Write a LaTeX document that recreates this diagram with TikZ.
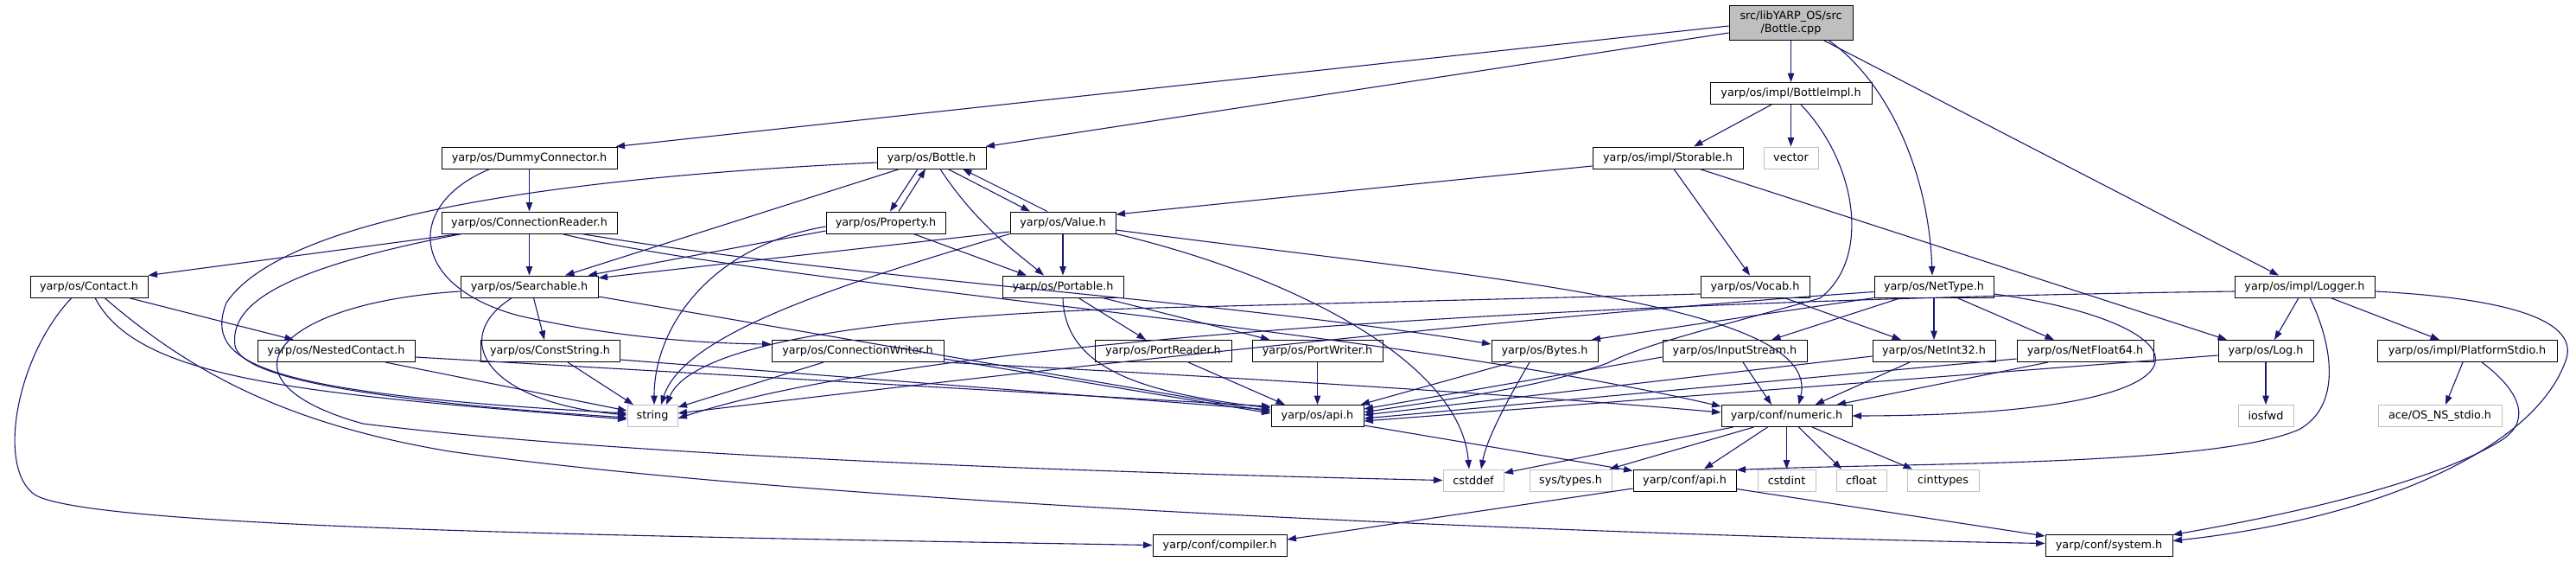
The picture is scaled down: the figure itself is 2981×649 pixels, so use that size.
\documentclass[tikz,border=0pt]{standalone}
\usepackage{fontspec}
\setmainfont{DejaVu Sans}
\usetikzlibrary{arrows.meta}
\definecolor{edgecol}{HTML}{191970}
\definecolor{extcol}{HTML}{BFBFBF}
\begin{document}
\begin{tikzpicture}[x=1pt,y=-1pt,
  font=\fontsize{12.8}{15}\selectfont,
  nd/.style={draw=black, line width=1pt, fill=white, minimum height=25pt, inner sep=0pt},
  ext/.style={nd, draw=extcol},
  e/.style={draw=edgecol, line width=1.1pt, -{Triangle[length=10.5pt,width=7.5pt]}}]
\useasboundingbox[fill=white] (0,0) rectangle (2981,649);
% row 0-1
\node[nd, fill=extcol, minimum width=143pt, minimum height=40pt, align=center] (cpp) at (2072.5,26) {src/libYARP\_OS/src\\/Bottle.cpp};
\node[nd, minimum width=187pt] (bimpl) at (2072.5,108) {yarp/os/impl/BottleImpl.h};
% row 2
\node[nd, minimum width=203pt] (dummy) at (612.5,182.5) {yarp/os/DummyConnector.h};
\node[nd, minimum width=126pt] (bottle) at (1078,182.5) {yarp/os/Bottle.h};
\node[nd, minimum width=174pt] (storable) at (1930,182.5) {yarp/os/impl/Storable.h};
\node[ext, minimum width=63pt] (vector) at (2072.5,182.5) {vector};
% row 3
\node[nd, minimum width=203pt] (creader) at (612.5,257.5) {yarp/os/ConnectionReader.h};
\node[nd, minimum width=138pt] (property) at (1025,257.5) {yarp/os/Property.h};
\node[nd, minimum width=122pt] (value) at (1230,257.5) {yarp/os/Value.h};
% row 4
\node[nd, minimum width=136pt] (contact) at (103,331.5) {yarp/os/Contact.h};
\node[nd, minimum width=159pt] (searchable) at (612.5,331.5) {yarp/os/Searchable.h};
\node[nd, minimum width=140pt] (portable) at (1230,331.5) {yarp/os/Portable.h};
\node[nd, minimum width=126pt] (vocab) at (2031,331.5) {yarp/os/Vocab.h};
\node[nd, minimum width=138pt] (nettype) at (2238,331.5) {yarp/os/NetType.h};
\node[nd, minimum width=162pt] (logger) at (2667,331.5) {yarp/os/impl/Logger.h};
% row 5
\node[nd, minimum width=182pt] (nested) at (389,406) {yarp/os/NestedContact.h};
\node[nd, minimum width=161pt] (conststring) at (636.5,406) {yarp/os/ConstString.h};
\node[nd, minimum width=199pt] (cwriter) at (992.5,406) {yarp/os/ConnectionWriter.h};
\node[nd, minimum width=158pt] (portreader) at (1346,406) {yarp/os/PortReader.h};
\node[nd, minimum width=151pt] (portwriter) at (1524.5,406) {yarp/os/PortWriter.h};
\node[nd, minimum width=123pt] (bytes) at (1787.5,406) {yarp/os/Bytes.h};
\node[nd, minimum width=167pt] (inputstream) at (2007.5,406) {yarp/os/InputStream.h};
\node[nd, minimum width=142pt] (netint) at (2238,406) {yarp/os/NetInt32.h};
\node[nd, minimum width=158pt] (netfloat) at (2413,406) {yarp/os/NetFloat64.h};
\node[nd, minimum width=110pt] (log) at (2622,406) {yarp/os/Log.h};
\node[nd, minimum width=208pt] (pstdio) at (2855,406) {yarp/os/impl/PlatformStdio.h};
% row 6
\node[ext, minimum width=58pt] (string) at (755,481) {string};
\node[nd, minimum width=107pt] (osapi) at (1524.5,481) {yarp/os/api.h};
\node[nd, minimum width=151pt] (numeric) at (2067.5,481) {yarp/conf/numeric.h};
\node[ext, minimum width=64pt] (iosfwd) at (2622,481) {iosfwd};
\node[ext, minimum width=143pt] (ace) at (2823.5,481) {ace/OS\_NS\_stdio.h};
% row 7
\node[ext, minimum width=70pt] (cstddef) at (1705,555.5) {cstddef};
\node[ext, minimum width=95pt] (systypes) at (1817.5,555.5) {sys/types.h};
\node[nd, minimum width=119pt] (confapi) at (1949.5,555.5) {yarp/conf/api.h};
\node[ext, minimum width=67pt] (cstdint) at (2067.5,555.5) {cstdint};
\node[ext, minimum width=58pt] (cfloat) at (2154,555.5) {cfloat};
\node[ext, minimum width=83pt] (cinttypes) at (2248.5,555.5) {cinttypes};
% row 8
\node[nd, minimum width=155pt] (compiler) at (1411.5,630.5) {yarp/conf/compiler.h};
\node[nd, minimum width=147pt] (system) at (2440.5,630.5) {yarp/conf/system.h};

% ---- edges ----
% Bottle.cpp
\draw[e] ([yshift=-4]cpp.west) -- ([xshift=-2]dummy.north east);
\draw[e] ([yshift=-12]cpp.west) -- ([xshift=-1]bottle.north east);
\draw[e] (cpp) -- (bimpl);
\draw[e] ([xshift=43.5]cpp.south) .. controls (2185,95) and (2232,200) .. ([xshift=-2]nettype.north);
\draw[e] ([xshift=37.5]cpp.south) -- ([xshift=-30]logger.north);
% BottleImpl
\draw[e] ([xshift=-22.5]bimpl.south) -- ([xshift=30]storable.north);
\draw[e] (bimpl) -- (vector);
\draw[e] ([xshift=11.5]bimpl.south) .. controls (2150,190) and (2165,300) .. (2106,345) .. controls (1960,385) and (1900,400) .. (1860,420) .. controls (1780,450) and (1650,465) .. ([yshift=4]osapi.east);
% Storable
\draw[e] ([yshift=-9.5]storable.west) -- ([yshift=9.5]value.east);
\draw[e] ([xshift=7]storable.south) -- ([xshift=-6]vocab.north);
\draw[e] ([xshift=37]storable.south) -- ([xshift=-45]log.north);
% Bottle.h
\draw[e] ([xshift=-16]bottle.south) -- ([xshift=5]property.north);
\draw[e] ([xshift=15]property.north) -- ([xshift=-7]bottle.south);
\draw[e] ([xshift=19]bottle.south) -- ([xshift=-38]value.north);
\draw[e] ([xshift=-18]value.north) -- ([xshift=36]bottle.south);
\draw[e] ([xshift=10]bottle.south) .. controls (1130,260) and (1180,295) .. ([xshift=-22]portable.north);
\draw[e] ([xshift=-37]bottle.south) -- ([xshift=41.5]searchable.north);
\draw[e] ([yshift=-5.5]bottle.west) .. controls (650,205) and (330,250) .. (262,350) .. controls (235,420) and (300,455) .. ([yshift=3]string.west);
% Property
\draw[e] ([yshift=-9.5]property.west) -- ([xshift=-12]searchable.north east);
\draw[e] ([yshift=-4.5]property.west) .. controls (820,285) and (757,380) .. ([xshift=2]string.north);
\draw[e] ([xshift=32]property.south) -- ([xshift=-42]portable.north);
% Value
\draw[e] (value) -- (portable);
\draw[e] ([yshift=-10.5]value.west) -- ([yshift=-3]searchable.north east);
\draw[e] (value.south west) .. controls (950,335) and (790,390) .. ([xshift=10]string.north);
\draw[e] ([yshift=-8.5]value.east) .. controls (1700,320) and (2110,350) .. ([xshift=14]numeric.north);
\draw[e] (value.south east) .. controls (1500,320) and (1690,420) .. ([xshift=-5]cstddef.north);
% Portable
\draw[e] ([xshift=18]portable.south) -- ([xshift=-20]portreader.north);
\draw[e] ([xshift=46]portable.south) -- ([xshift=-55]portwriter.north);
\draw[e] (portable.south) .. controls (1232,430) and (1330,455) .. ([yshift=9]osapi.west);
% Searchable
\draw[e] ([xshift=5]searchable.south) -- ([xshift=-6.5]conststring.north);
\draw[e] ([xshift=-20]searchable.south) .. controls (520,390) and (560,465) .. ([yshift=1]string.west);
\draw[e] ([yshift=-11.5]searchable.east) -- ([yshift=5]osapi.west);
\draw[e] ([yshift=-5.5]searchable.west) .. controls (320,350) and (240,440) .. (420,490) .. controls (700,525) and (1200,545) .. (cstddef.west);
% ConnectionReader
\draw[e] ([xshift=-79.5]creader.south) -- (contact.north east);
\draw[e] (creader) -- (searchable);
\draw[e] ([xshift=-78]creader.south) .. controls (330,310) and (265,350) .. (272,400) .. controls (280,440) and (450,465) .. ([yshift=-2]string.west);
\draw[e] ([xshift=60.5]creader.south) .. controls (1000,325) and (1400,345) .. ([yshift=8]bytes.west);
\draw[e] ([xshift=37.5]creader.south) .. controls (900,330) and (1600,380) .. ([yshift=-2]numeric.north west);
% Contact
\draw[e] ([xshift=46]contact.south) -- ([xshift=-49]nested.north);
\draw[e] ([xshift=7]contact.south) .. controls (160,440) and (350,455) .. ([yshift=-4]string.west);
\draw[e] ([xshift=-20]contact.south) .. controls (20,410) and (-5,540) .. (40,572) .. controls (100,610) and (700,620) .. (compiler.west);
\draw[e] ([xshift=18]contact.south) .. controls (220,430) and (330,490) .. (520,522) .. controls (1000,590) and (2000,622) .. ([yshift=2]system.west);
% NestedContact, ConstString, ConnectionWriter
\draw[e] ([xshift=57]nested.south) -- ([yshift=6]string.west);
\draw[e] ([yshift=-7]nested.east) -- ([yshift=11]osapi.west);
\draw[e] ([xshift=20.5]conststring.south) -- ([xshift=-22]string.north);
\draw[e] ([yshift=-10]conststring.east) -- ([yshift=7]osapi.west);
\draw[e] ([xshift=-39.5]cwriter.south) -- ([yshift=10]string.east);
\draw[e] ([yshift=-9]cwriter.east) -- ([yshift=3]osapi.west);
\draw[e] (cwriter.south east) .. controls (1500,440) and (1800,460) .. ([yshift=4]numeric.west);
% DummyConnector
\draw[e] (dummy) -- (creader);
\draw[e] ([xshift=-45.5]dummy.south) .. controls (470,235) and (470,330) .. (600,365) .. controls (700,388) and (800,397) .. ([yshift=8]cwriter.west);
% Bytes, PortReader, PortWriter
\draw[e] ([xshift=-37.5]bytes.south) -- ([xshift=-4]osapi.north east);
\draw[e] ([xshift=-17.5]bytes.south) .. controls (1740,470) and (1720,510) .. ([xshift=9]cstddef.north);
\draw[e] ([xshift=29]portreader.south) -- ([xshift=-37.5]osapi.north);
\draw[e] (portwriter) -- (osapi);
% InputStream
\draw[e] ([xshift=9.5]inputstream.south) -- ([xshift=-17.5]numeric.north);
\draw[e] ([yshift=-7]inputstream.west) -- ([yshift=8]osapi.east);
% NetType
\draw[e] ([xshift=-38]nettype.south) -- ([xshift=42.5]inputstream.north);
\draw[e] (nettype) -- (netint);
\draw[e] ([xshift=27]nettype.south) -- ([xshift=-36]netfloat.north);
\draw[e] ([yshift=-8.5]nettype.east) .. controls (2560,375) and (2600,480) .. (numeric.east);
\draw[e] (nettype.south west) -- ([xshift=-8]bytes.north east);
\draw[e] ([yshift=-6]nettype.west) .. controls (1700,370) and (1100,440) .. ([yshift=3]string.east);
% NetInt32, NetFloat64
\draw[e] ([xshift=-28]netint.south) -- ([xshift=33]numeric.north);
\draw[e] ([yshift=-6]netint.west) -- ([yshift=1]osapi.east);
\draw[e] ([xshift=-43]netfloat.south) -- ([xshift=-18]numeric.north east);
\draw[e] ([yshift=-9]netfloat.west) -- ([yshift=-3]osapi.east);
% Vocab
\draw[e] ([xshift=34]vocab.south) -- ([xshift=-38]netint.north);
\draw[e] ([yshift=-8.5]vocab.west) -- (1340,356) .. controls (1000,365) and (800,400) .. ([xshift=16]string.north);
% Log
\draw[e] (log) -- (iosfwd);
\draw[e] ([yshift=-5]log.west) -- ([yshift=-6]osapi.east);
% Logger
\draw[e] ([xshift=-7]logger.south) -- ([xshift=10]log.north);
\draw[e] ([xshift=30]logger.south) -- ([xshift=-32]pstdio.north);
\draw[e] ([xshift=6]logger.south) .. controls (2700,400) and (2710,470) .. (2660,497) .. controls (2560,540) and (2200,535) .. ([yshift=-1]confapi.north east);
\draw[e] ([yshift=-5.5]logger.east) .. controls (2900,345) and (2990,370) .. (2968,420) .. controls (2930,520) and (2750,600) .. ([yshift=5]system.east);
\draw[e] ([yshift=-5.5]logger.west) .. controls (2000,345) and (1100,380) .. ([yshift=-3]string.east);
% PlatformStdio
\draw[e] ([xshift=-5]pstdio.south) -- ([xshift=6.5]ace.north);
\draw[e] ([xshift=17]pstdio.south) .. controls (2920,455) and (2930,490) .. (2890,512) .. controls (2800,565) and (2620,600) .. ([yshift=12]system.east);
% numeric
\draw[e] ([xshift=-62]numeric.south) -- ([yshift=8.5]cstddef.east);
\draw[e] ([xshift=-38]numeric.south) -- ([xshift=-3]systypes.north east);
\draw[e] ([xshift=-22]numeric.south) -- ([xshift=22.5]confapi.north);
\draw[e] (numeric) -- (cstdint);
\draw[e] ([xshift=14]numeric.south) -- ([xshift=-23]cfloat.north);
\draw[e] ([xshift=29.5]numeric.south) -- ([xshift=-35.5]cinttypes.north);
% api
\draw[e] ([yshift=2]osapi.south east) -- ([yshift=-2]confapi.north west);
\draw[e] ([yshift=-9.5]confapi.west) -- ([yshift=6.5]compiler.east);
\draw[e] ([yshift=-10]confapi.east) -- ([yshift=10.5]system.west);
\end{tikzpicture}
\end{document}
